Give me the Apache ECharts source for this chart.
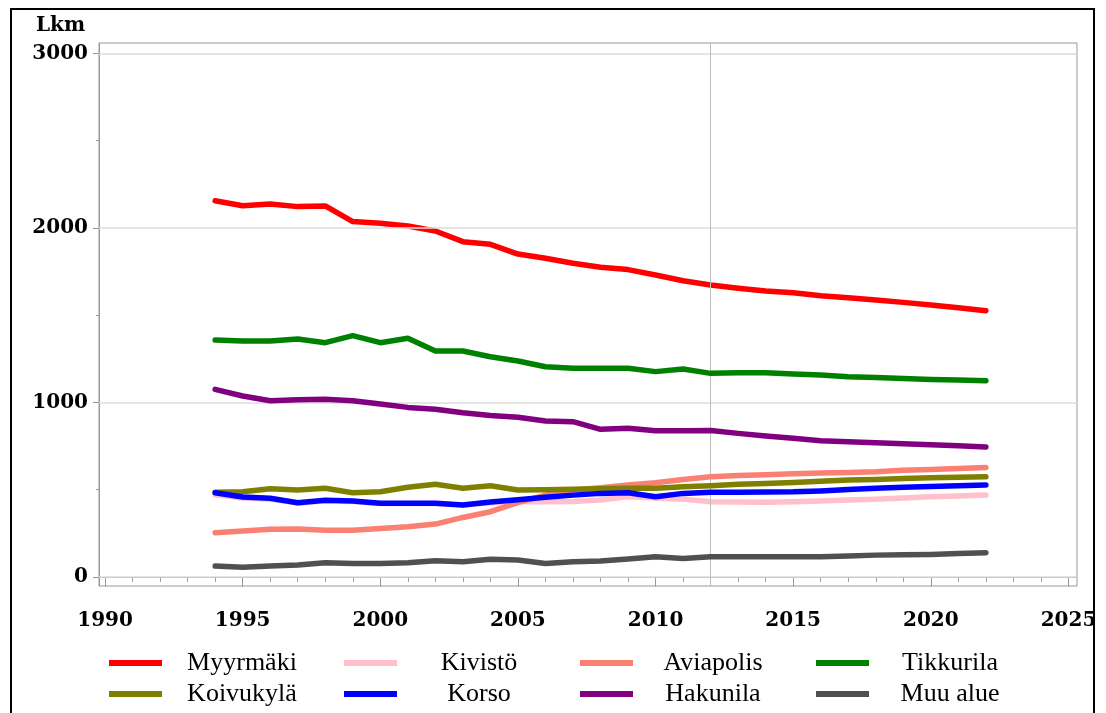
<!DOCTYPE html>
<html>
<head>
<meta charset="utf-8">
<script src="https://cdn.jsdelivr.net/npm/echarts@6/dist/echarts.min.js"></script>
<style>
html,body{margin:0;padding:0;background:#fff;}
#c{width:1106px;height:713px;}
</style>
</head>
<body>
<div id="c"></div>
<script>
const years = [1994,1995,1996,1997,1998,1999,2000,2001,2002,2003,2004,2005,2006,2007,2008,2009,2010,2011,2012,2013,2014,2015,2016,2017,2018,2019,2020,2021,2022];
const seriesNames = ['Myyrmäki','Kivistö','Aviapolis','Tikkurila','Koivukylä','Korso','Hakunila','Muu alue'];
const myyrmaki = [2156,2127,2137,2122,2126,2036,2026,2011,1982,1921,1906,1850,1826,1797,1774,1761,1730,1697,1673,1654,1638,1628,1611,1600,1587,1573,1558,1542,1525];
const kivisto = [470,452,446,422,436,432,420,420,420,412,424,432,430,432,440,459,452,445,430,428,427,430,434,440,445,452,459,463,468];
const aviapolis = [252,262,272,274,266,266,276,287,302,340,373,425,468,497,510,526,539,558,573,580,585,590,595,598,602,610,615,621,627];
const tikkurila = [1357,1351,1351,1363,1342,1382,1342,1367,1294,1294,1261,1237,1204,1195,1195,1195,1176,1191,1166,1170,1170,1162,1156,1147,1143,1137,1131,1128,1124];
const koivukyla = [484,487,505,497,507,482,487,513,530,507,522,497,499,502,504,507,507,516,522,530,535,540,548,554,558,563,567,570,573];
const korso = [482,457,450,424,438,434,421,421,421,411,428,442,456,468,478,482,459,478,484,485,486,487,492,500,507,513,517,522,526];
const hakunila = [1074,1036,1009,1015,1017,1009,990,971,960,940,925,914,893,889,845,851,837,837,838,822,807,794,780,774,768,762,757,751,744];
const muuAlue = [61,54,61,67,80,76,76,80,92,86,100,96,76,86,90,102,115,105,115,115,115,115,115,119,124,126,128,133,138];
const xMajorTicks = [1990,1995,2000,2005,2010,2015,2020,2025];
const xMinorTicks = [1990,1991,1992,1993,1994,1995,1996,1997,1998,1999,2000,2001,2002,2003,2004,2005,2006,2007,2008,2009,2010,2011,2012,2013,2014,2015,2016,2017,2018,2019,2020,2021,2022,2023,2024,2025];
const yMajorTicks = [0,1000,2000,3000];
const yMinorTicks = [500,1500,2500];
const refYear = 2012;
const yAxisTitle = 'Lkm';

const allValues = [myyrmaki,kivisto,aviapolis,tikkurila,koivukyla,korso,hakunila,muuAlue];
const colors = ['#ff0000','#ffc0cb','#fa8072','#008000','#808000','#0000ff','#800080','#505050'];

const chart = echarts.init(document.getElementById('c'));

const axisFont = {fontFamily:'DejaVu Serif', fontWeight:'bold', fontSize:20, color:'#000'};
const axisLineStyle = {color:'#999', width:1};

const series = seriesNames.map((name,i)=>({
  name: name,
  type: 'line',
  xAxisIndex: 0,
  yAxisIndex: 0,
  data: years.map((y,j)=>[y, allValues[i][j]]),
  showSymbol: false,
  symbol: 'none',
  lineStyle: {color: colors[i], width: 5.5, cap: 'round', join: 'round'},
  itemStyle: {color: colors[i]},
  z: 3 + i,
  animation: false
}));

// gridlines and reference line
series.unshift({
  type: 'line',
  data: [],
  xAxisIndex: 0,
  yAxisIndex: 0,
  z: 1,
  markLine: {
    silent: true,
    symbol: ['none','none'],
    label: {show:false},
    animation: false,
    data: yMajorTicks.map(v=>({yAxis:v, lineStyle:{color:'#dcdcdc', width:1.5, type:'solid'}}))
      .concat([{xAxis: refYear, lineStyle:{color:'#bdbdbd', width:1, type:'solid'}}])
  }
});

// legend drawn as graphics
const legendCols = [
  {sx:109, tx:242},
  {sx:344, tx:479},
  {sx:580, tx:713},
  {sx:816, tx:950}
];
const legendRows = [663, 694];
const graphics = [];
seriesNames.forEach((name,i)=>{
  const col = legendCols[i % 4];
  const row = legendRows[Math.floor(i/4)];
  graphics.push({
    type:'line',
    shape:{x1:col.sx, y1:row, x2:col.sx+53, y2:row},
    style:{stroke:colors[i], lineWidth:6}
  });
  graphics.push({
    type:'text',
    x: col.tx, y: row,
    style:{text:name, fill:'#000', font:'26px "Liberation Serif"', textAlign:'center', textVerticalAlign:'middle'}
  });
});
graphics.push({
  type:'text', x:36, y:26,
  style:{text:yAxisTitle, fill:'#000', font:'bold 20px "DejaVu Serif"', textAlign:'left', textVerticalAlign:'middle'}
});
graphics.push({
  type:'rect',
  shape:{x:11, y:9, width:1083, height:712},
  style:{fill:'none', stroke:'#000', lineWidth:2},
  z: 100
});

chart.setOption({
  animation: false,
  backgroundColor: '#fff',
  grid: {left:99, right:29, top:43, bottom:127, show:true, borderColor:'#999', borderWidth:1, backgroundColor:'transparent'},
  xAxis: [
    {
      type:'value', min:1989.78, max:2025.31, position:'bottom',
      axisLine:{show:true, lineStyle:axisLineStyle},
      axisTick:{show:true, customValues:xMajorTicks, length:10, lineStyle:axisLineStyle},
      axisLabel:{show:true, customValues:xMajorTicks, margin:25, ...axisFont, formatter: v=>String(v)},
      splitLine:{show:false}
    },
    {
      type:'value', min:1989.78, max:2025.31, position:'bottom',
      axisLine:{show:false},
      axisTick:{show:true, customValues:xMinorTicks, length:5, lineStyle:axisLineStyle},
      axisLabel:{show:false},
      splitLine:{show:false}
    }
  ],
  yAxis: [
    {
      type:'value', min:-53, max:3060, position:'left',
      axisLine:{show:true, lineStyle:axisLineStyle},
      axisTick:{show:true, customValues:yMajorTicks, length:6, lineStyle:axisLineStyle},
      axisLabel:{show:true, customValues:yMajorTicks, margin:11, ...axisFont, formatter: v=>String(v)},
      splitLine:{show:false}
    },
    {
      type:'value', min:-53, max:3060, position:'left',
      axisLine:{show:false},
      axisTick:{show:true, customValues:yMinorTicks, length:3, lineStyle:axisLineStyle},
      axisLabel:{show:false},
      splitLine:{show:false}
    }
  ],
  graphic: graphics,
  series: series
});
</script>
</body>
</html>
